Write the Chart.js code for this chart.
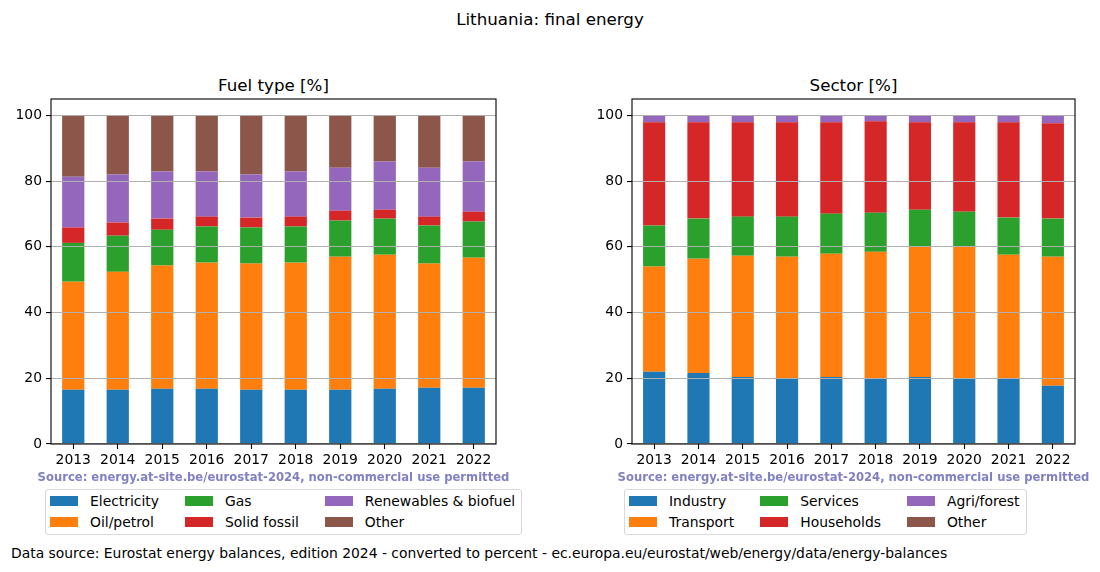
<!DOCTYPE html>
<html lang="en">
<head>
  <meta charset="UTF-8">
  <title>Lithuania: final energy</title>
  <script src="https://cdn.jsdelivr.net/npm/chart.js@4.4.3/dist/chart.umd.min.js"></script>
  <style>
    body { margin: 0; width: 1100px; height: 572px; position: relative; overflow: hidden; background: #fff; font-family: "DejaVu Sans", sans-serif; color: #000; }
    .txt { position: absolute; white-space: nowrap; line-height: 20px; }
    .title { font-size: 16.7px; }
    .source { font-size: 11.6px; font-weight: bold; color: #8080c4; line-height: 14px; }
    .box { position: absolute; }
    .legend { position: absolute; display: inline-grid; grid-template-rows: 16px 16px; grid-auto-flow: column; column-gap: 26px; row-gap: 5px;
              padding: 3px 6px 4px 4px; border: 1px solid #d9d9d9; border-radius: 3px; font-size: 13.9px; background: #fff; }
    .legend .item { display: flex; align-items: center; line-height: 16px; white-space: nowrap; }
    .legend .patch { width: 28px; height: 10px; margin-right: 12px; flex: none; }
  </style>
</head>
<body>
  <div class="txt title" style="left:0; width:1100px; text-align:center; top:9px;">Lithuania: final energy</div>

  <div class="txt title" style="left:51px; width:445px; text-align:center; top:75px;">Fuel type [%]</div>
  <div class="box" style="left:0; top:80px;"><canvas id="fuel-chart" width="520" height="400"></canvas></div>
  <div class="txt source" style="left:0; width:547px; text-align:center; top:470px;">Source: energy.at-site.be/eurostat-2024, non-commercial use permitted</div>
  <div class="legend" id="fuel-legend" style="left:45px; top:489px;"></div>

  <div class="txt title" style="left:632px; width:443px; text-align:center; top:75px;">Sector [%]</div>
  <div class="box" style="left:580px; top:80px;"><canvas id="sector-chart" width="520" height="400"></canvas></div>
  <div class="txt source" style="left:580px; width:547px; text-align:center; top:470px;">Source: energy.at-site.be/eurostat-2024, non-commercial use permitted</div>
  <div class="legend" id="sector-legend" style="left:624px; top:489px;"></div>

  <div class="txt" style="left:11px; top:543px; font-size:13.9px;">Data source: Eurostat energy balances, edition 2024 - converted to percent - ec.europa.eu/eurostat/web/energy/data/energy-balances</div>

  <script>
    const years = ['2013', '2014', '2015', '2016', '2017', '2018', '2019', '2020', '2021', '2022'];
    const yTicks = [0, 20, 40, 60, 80, 100];
    const colors = ['#1f77b4', '#ff7f0e', '#2ca02c', '#d62728', '#9467bd', '#8c564b'];

    // fuel type, percent of final energy
    const fuelLabels = ['Electricity', 'Oil/petrol', 'Gas', 'Solid fossil', 'Renewables & biofuel', 'Other'];
    const electricity = [16.5, 16.5, 16.8, 16.8, 16.5, 16.5, 16.5, 16.8, 17.1, 17.1];
    const oilPetrol   = [32.9, 35.9, 37.5, 38.4, 38.4, 38.7, 40.5, 40.8, 37.8, 39.6];
    const gas         = [11.8, 11.0, 10.9, 11.0, 11.0, 11.0, 11.0, 11.0, 11.6, 11.0];
    const solidFossil = [4.7, 4.0, 3.4, 3.0, 3.0, 3.0, 3.0, 2.7, 2.7, 3.0];
    const renewables  = [15.4, 14.6, 14.3, 13.7, 13.1, 13.7, 13.1, 14.7, 14.9, 15.3];
    const fuelOther   = [18.7, 18.0, 17.1, 17.1, 18.0, 17.1, 15.9, 14.0, 15.9, 14.0];

    // sector, percent of final energy
    const sectorLabels = ['Industry', 'Transport', 'Services', 'Households', 'Agri/forest', 'Other'];
    const industry    = [22.0, 21.6, 20.4, 20.1, 20.4, 20.1, 20.4, 19.8, 19.8, 17.7];
    const transport   = [32.0, 34.8, 36.9, 36.9, 37.5, 38.4, 39.7, 40.3, 37.8, 39.3];
    const services    = [12.5, 12.2, 11.9, 12.2, 12.2, 11.9, 11.2, 10.6, 11.3, 11.6];
    const households  = [31.4, 29.3, 28.7, 28.7, 27.8, 27.8, 26.6, 27.2, 29.0, 29.0];
    const agriForest  = [2.1, 2.1, 2.1, 2.1, 2.1, 1.8, 2.1, 2.1, 2.1, 2.4];
    const sectorOther = [0, 0, 0, 0, 0, 0, 0, 0, 0, 0];

    const tickFont = { family: 'DejaVu Sans', size: 13.9 };

    // matplotlib-like frame round the plot area
    const framePlugin = {
      id: 'frame',
      afterDraw(chart) {
        const { ctx, chartArea: a } = chart;
        ctx.save();
        ctx.strokeStyle = '#000';
        ctx.lineWidth = 1.1;
        ctx.strokeRect(a.left, a.top, a.right - a.left, a.bottom - a.top);
        ctx.restore();
      }
    };

    function makeChart(canvasId, labels, series, yWidth, padRight) {
      const ctx = document.getElementById(canvasId).getContext('2d');
      return new Chart(ctx, {
        type: 'bar',
        data: {
          labels: years,
          datasets: series.map((s, i) => ({
            label: labels[i],
            data: s,
            backgroundColor: colors[i],
            borderWidth: 0,
            barPercentage: 0.5,
            categoryPercentage: 1.0
          }))
        },
        options: {
          responsive: false,
          animation: false,
          layout: { padding: { left: 0, top: 19, right: padRight, bottom: 0 } },
          plugins: { legend: { display: false }, tooltip: { enabled: false }, title: { display: false } },
          scales: {
            x: {
              stacked: true,
              offset: true,
              border: { display: false },
              grid: { offset: false, drawOnChartArea: false, tickLength: 5, tickColor: '#000', tickWidth: 1.1 },
              ticks: { color: '#000', font: tickFont, maxRotation: 0, padding: 3 },
              afterFit: scale => { scale.height = 36; }
            },
            y: {
              stacked: true,
              min: 0,
              max: 105,
              border: { display: false },
              grid: { z: 1, color: '#b0b0b0', lineWidth: 1.1, tickLength: 5, tickColor: '#000', tickWidth: 1.1 },
              ticks: { color: '#000', font: tickFont, padding: 4 },
              afterBuildTicks: scale => { scale.ticks = yTicks.map(v => ({ value: v })); },
              afterFit: scale => { scale.width = yWidth; }
            }
          }
        },
        plugins: [framePlugin]
      });
    }

    function makeLegend(id, labels) {
      const el = document.getElementById(id);
      el.innerHTML = labels.map((l, i) =>
        `<div class="item"><span class="patch" style="background:${colors[i]}"></span>${l}</div>`
      ).join('');
    }

    makeChart('fuel-chart', fuelLabels, [electricity, oilPetrol, gas, solidFossil, renewables, fuelOther], 51, 24);
    makeChart('sector-chart', sectorLabels, [industry, transport, services, households, agriForest, sectorOther], 52, 25);
    makeLegend('fuel-legend', fuelLabels);
    makeLegend('sector-legend', sectorLabels);
  </script>
</body>
</html>
